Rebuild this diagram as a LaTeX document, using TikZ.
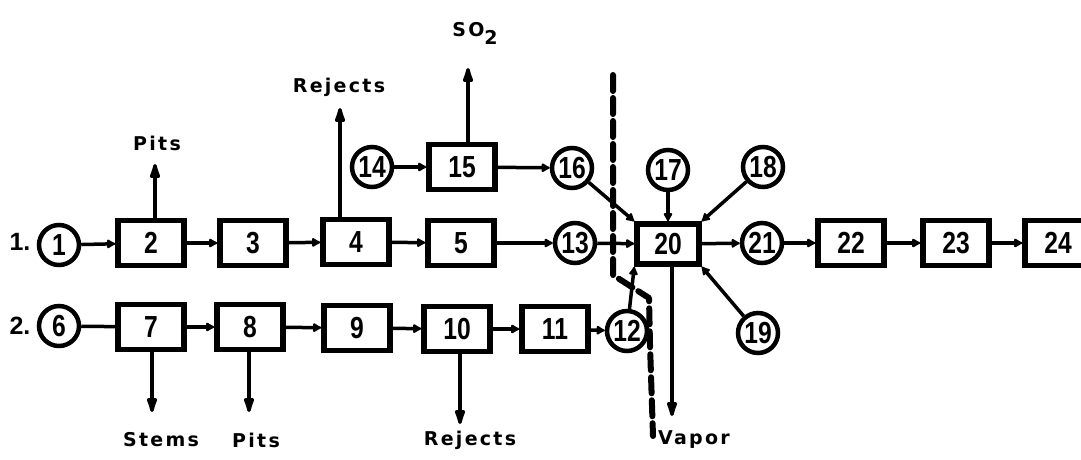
\documentclass[tikz,border=0pt]{standalone}
\usepackage{fontspec}
\usepackage{graphicx}
\setmainfont{Liberation Sans}
\newfontfamily\labfont[LetterSpace=12]{DejaVu Sans}
\usetikzlibrary{arrows.meta}
\newcommand{\num}[1]{\scalebox{0.85}[1.05]{\fontsize{29}{29}\selectfont\bfseries #1}}
\tikzset{
  box/.style={draw, line width=5.5pt, minimum width=66pt, minimum height=45pt, inner sep=0pt},
  circ/.style={draw, circle, line width=4.5pt, minimum size=40pt, inner sep=0pt},
  conn/.style={line width=3.5pt, -{Latex[length=10pt,width=11pt,round]}},
  outarrow/.style={line width=3.5pt, -{Latex[length=22pt,width=12pt,round]}},
  lab/.style={font=\labfont\bfseries\fontsize{19}{19}\selectfont, inner sep=0pt},
  rowlab/.style={font=\fontsize{25}{25}\selectfont\bfseries, inner sep=0pt},
  boundary/.style={line width=6pt, dash pattern=on 16pt off 7pt, line cap=round, line join=round}
}
\begin{document}
\begin{tikzpicture}[x=1pt,y=-1pt]
\useasboundingbox (0,0) rectangle (1081,459);
\clip (0,0) rectangle (1081,459);
% row labels
\node[rowlab] (r1) at (20,242) {1.};
\node[rowlab] (r2) at (20,326) {2.};
% row 1
\node[circ] (c1) at (59,245) {\num{1}};
\node[box] (b2) at (151,243) {\num{2}};
\node[box] (b3) at (253,243) {\num{3}};
\node[box] (b4) at (356,242) {\num{4}};
\node[box] (b5) at (461,243) {\num{5}};
\node[circ] (c13) at (575,243) {\num{13}};
\node[box, minimum width=62pt, minimum height=40pt] (b20) at (668,244) {\num{20}};
\node[circ] (c21) at (762,243) {\num{21}};
\node[box] (b22) at (851,243) {\num{22}};
\node[box] (b23) at (956,243) {\num{23}};
\node[box] (b24) at (1058,243) {\num{24}};
% upper branch
\node[circ] (c14) at (372,167) {\num{14}};
\node[box] (b15) at (462,167) {\num{15}};
\node[circ] (c16) at (572,168) {\num{16}};
\node[circ] (c17) at (668,170) {\num{17}};
\node[circ] (c18) at (763,167) {\num{18}};
\node[circ] (c19) at (758,333) {\num{19}};
% row 2
\node[circ] (c6) at (59,326) {\num{6}};
\node[box] (b7) at (151,327) {\num{7}};
\node[box] (b8) at (250,327) {\num{8}};
\node[box] (b9) at (357,328) {\num{9}};
\node[box] (b10) at (457,329) {\num{10}};
\node[box] (b11) at (555,329) {\num{11}};
\node[circ] (c12) at (627,331) {\num{12}};
% output labels
\node[lab] (pits1) at (157,143) {Pits};
\node[lab] (rej1) at (339,87) {Rejects};
\node[lab] (so2) at (475,33) {SO\raisebox{-8pt}{2}};
\node[lab] (stems) at (161,440) {Stems};
\node[lab] (pits2) at (256,440) {Pits};
\node[lab] (rej2) at (470,440) {Rejects};
\node[lab] (vapor) at (694,440) {Vapor};
% free ends
\coordinate (tPits) at (155,164);
\coordinate (tRej) at (340,108);
\coordinate (tSO) at (468,68);
\coordinate (tStems) at (152,412);
\coordinate (tPits2) at (249,412);
\coordinate (tRej2) at (460,424);
\coordinate (tVap) at (672,416);
% boundary dashed line
\coordinate (d1) at (613,75);
\coordinate (d2) at (613,275);
\coordinate (d3) at (649,298);
\coordinate (d4) at (650,345);
\coordinate (d5) at (653,436);
\draw[boundary] (d1) -- (d2) -- (d3) -- (d4) -- (d5);
% row 1 connectors
\draw[conn] (c1) -- (b2);
\draw[conn] (b2) -- (b3);
\draw[conn] (b3) -- (b4);
\draw[conn] (b4) -- (b5);
\draw[conn] (b5) -- (c13);
\draw[conn] (c13) -- (b20);
\draw[conn] (b20) -- (c21);
\draw[conn] (c21) -- (b22);
\draw[conn] (b22) -- (b23);
\draw[conn] (b23) -- (b24);
% upper branch connectors
\draw[conn] (c14) -- (b15);
\draw[conn] (b15) -- (c16);
\draw[conn] (c16) -- (b20.north west);
\draw[conn] (c17) -- (b20);
\draw[conn] (c18) -- (b20.north east);
\draw[conn] (c19) -- (b20.south east);
\draw[conn] (c12) -- (b20.south west);
% row 2 connectors
\draw[line width=3.5pt] (c6) -- (b7);
\draw[conn] (b7) -- (b8);
\draw[conn] (b8) -- (b9);
\draw[conn] (b9) -- (b10);
\draw[conn] (b10) -- (b11);
\draw[conn] (b11) -- (c12);
% outputs
\draw[outarrow] (b2.north -| tPits) -- (tPits);
\draw[outarrow] (b4.north -| tRej) -- (tRej);
\draw[outarrow] (b15.north -| tSO) -- (tSO);
\draw[outarrow] (b7.south -| tStems) -- (tStems);
\draw[outarrow] (b8.south -| tPits2) -- (tPits2);
\draw[outarrow] (b10.south -| tRej2) -- (tRej2);
\draw[outarrow] (b20.south -| tVap) -- (tVap);
\end{tikzpicture}
\end{document}
